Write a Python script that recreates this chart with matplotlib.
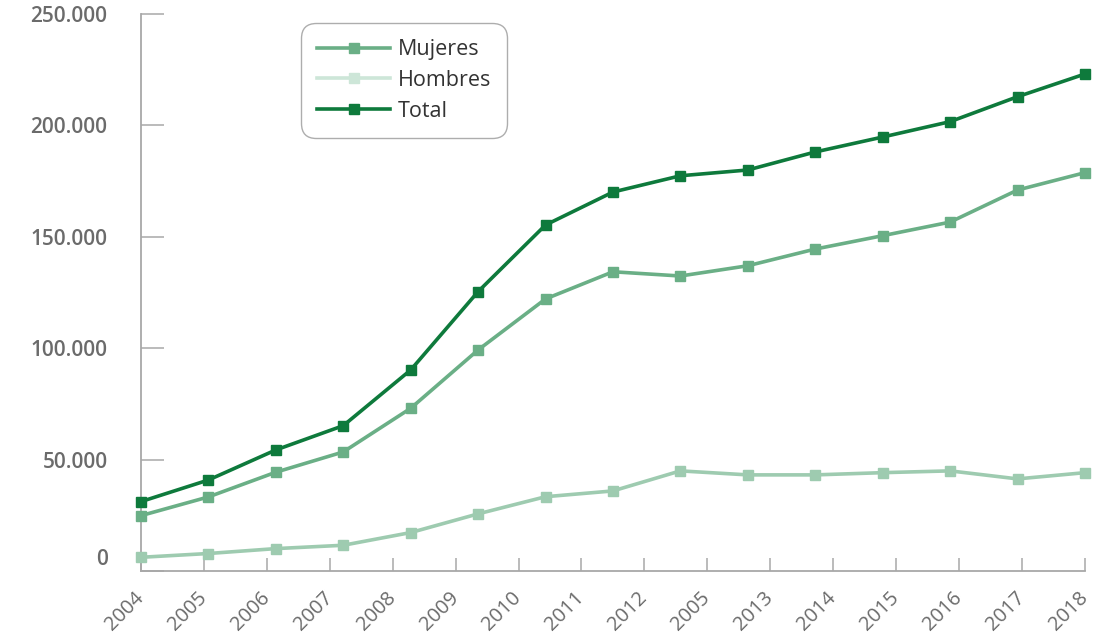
import numpy as np
import matplotlib.pyplot as plt
from matplotlib.lines import Line2D
from matplotlib.ticker import FuncFormatter

plt.rcParams['font.family'] = ['Open Sans', 'DejaVu Sans']

## data (thousands)
labels = ['2004', '2005', '2006', '2007', '2008', '2009', '2010', '2011',
          '2012', '2005', '2013', '2014', '2015', '2016', '2017', '2018']
mujeres = [24.8, 33.2, 44.3, 53.4, 73.0, 99.2, 122.1, 134.3, 132.4, 137.0,
           144.5, 150.5, 156.6, 171.0, 178.8]
hombres = [6.1, 7.8, 10.0, 11.5, 17.2, 25.6, 33.3, 35.9, 44.9, 43.1,
           43.1, 44.1, 44.9, 41.3, 44.1]
total = [31.1, 40.8, 54.3, 65.2, 90.2, 125.4, 155.3, 170.1, 177.4, 180.0,
         188.1, 194.8, 201.7, 212.9, 223.1]

c_muj = '#6aaf86'
c_hom = '#9ecbb0'
c_hom_leg = '#cde6d8'
c_tot = '#0e7a3c'
grey = '#a8a8a8'
txt = '#6b6b6b'

fig = plt.figure(figsize=(11.16, 6.4), dpi=100)
ax = fig.add_axes([0.1263, 0.108, 0.8459, 0.870])

# 15 points spread over the full axis, 16 tick labels (as in the original)
x = np.arange(len(total))
ticks = np.linspace(0, len(total) - 1, len(labels))

kw = dict(marker='s', markersize=7, linewidth=2.6, clip_on=False)
ax.plot(x, np.array(hombres) * 1000, color=c_hom, zorder=3, **kw)
ax.plot(x, np.array(mujeres) * 1000, color=c_muj, zorder=4, **kw)
ax.plot(x, np.array(total) * 1000, color=c_tot, zorder=5, **kw)

ax.set_xlim(0, len(total) - 1)
ax.set_ylim(0, 250000)

## axes look
for s in ['top', 'right']:
    ax.spines[s].set_visible(False)
for s in ['left', 'bottom']:
    ax.spines[s].set_color(grey)
    ax.spines[s].set_linewidth(1.3)

ax.set_yticks([0, 50000, 100000, 150000, 200000, 250000])
ax.yaxis.set_major_formatter(FuncFormatter(
    lambda v, p: '' if v == 0 else f'{int(v):,}'.replace(',', '.')))
ax.tick_params(axis='y', direction='in', length=16.5, width=1.1, color=grey,
               pad=24, labelsize=15, labelcolor=txt)
for t in ax.get_yticklabels():
    t.set_fontweight('semibold')
# the zero label sits a bit above the axis line in the original
ax.annotate('0', xy=(0, 0), xycoords=('axes fraction', 'data'),
            xytext=(-24, 8), textcoords='offset points', ha='right',
            va='center', fontsize=15, color=txt, fontweight='semibold')

ax.set_xticks(ticks)
ax.set_xticklabels(labels, rotation=45, ha='right', va='center',
                   rotation_mode='anchor')
ax.tick_params(axis='x', direction='in', length=9.5, width=1.1, color=grey,
               pad=17, labelsize=14.5, labelcolor=txt)

## legend
handles = [
    Line2D([], [], color=c_muj, marker='s', markersize=7, linewidth=2.6),
    Line2D([], [], color=c_hom_leg, marker='s', markersize=7, linewidth=2.6),
    Line2D([], [], color=c_tot, marker='s', markersize=7, linewidth=2.6),
]
leg = ax.legend(handles, ['Mujeres', 'Hombres', 'Total'], loc='upper left',
                bbox_to_anchor=(0.1695, 0.984), borderaxespad=0,
                fontsize=15.5, handlelength=3.4, handletextpad=0.35,
                labelspacing=0.45, borderpad=0.75, frameon=True, fancybox=True)
leg.get_frame().set_edgecolor('#999999')
leg.get_frame().set_linewidth(1.0)
leg.get_frame().set_boxstyle('round', pad=0, rounding_size=0.7)
for t in leg.get_texts():
    t.set_color('#333333')

fig.savefig('out.png', dpi=100)
